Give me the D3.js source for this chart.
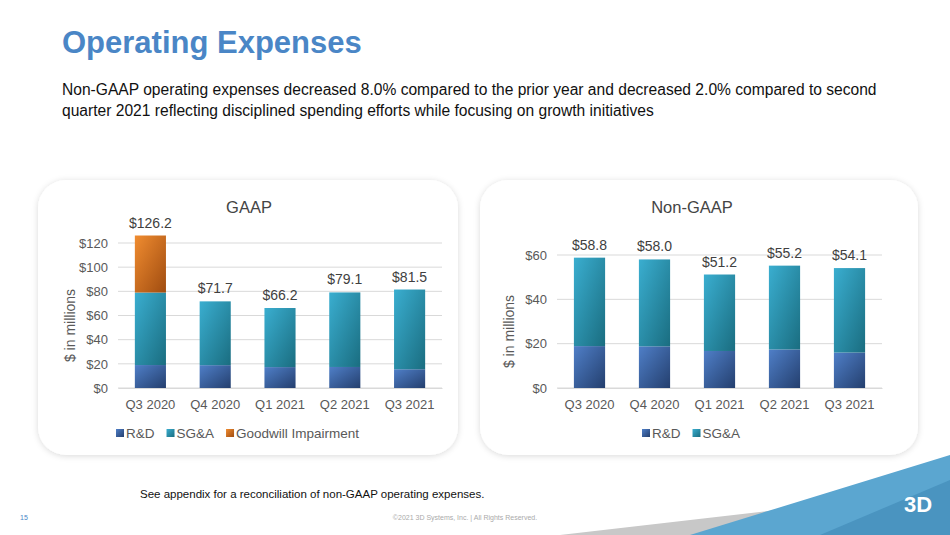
<!DOCTYPE html>
<html><head><meta charset="utf-8">
<script src="https://cdn.jsdelivr.net/npm/d3@7"></script>
<style>
body{margin:0;background:#fff;font-family:Arial,"Liberation Sans",sans-serif;}
svg{display:block;}
</style></head>
<body><svg id="slide" width="950" height="535"></svg>
<script>
const quarters = ["Q3 2020", "Q4 2020", "Q1 2021", "Q2 2021", "Q3 2021"];
const gaapRD = [19.0, 18.9, 17.3, 17.4, 15.5];
const gaapSGA = [60.0, 52.8, 48.9, 61.7, 66.0];
const gaapGW = [47.2, 0, 0, 0, 0];
const gaapTotals = ["$126.2", "$71.7", "$66.2", "$79.1", "$81.5"];
const ngRD = [18.9, 18.8, 16.7, 17.4, 16.0];
const ngSGA = [39.9, 39.2, 34.5, 37.8, 38.1];
const ngTotals = ["$58.8", "$58.0", "$51.2", "$55.2", "$54.1"];
const gaapTicks = [0, 20, 40, 60, 80, 100, 120];
const ngTicks = [0, 20, 40, 60];

const svg = d3.select("#slide");
const defs = svg.append("defs");

function grad(id, light, dark) {
  const g = defs.append("linearGradient").attr("id", id)
    .attr("x1", "0").attr("y1", "0").attr("x2", "1").attr("y2", "1");
  g.append("stop").attr("offset", "0%").attr("stop-color", light);
  g.append("stop").attr("offset", "100%").attr("stop-color", dark);
}
grad("gRD", "#4f7fc8", "#243f6e");
grad("gSGA", "#3aaed0", "#1a6d80");
grad("gGW", "#f08c30", "#a04c10");

const shadow = defs.append("filter").attr("id", "sh").attr("x", "-10%").attr("y", "-10%").attr("width", "120%").attr("height", "120%");
shadow.append("feDropShadow").attr("dx", 0).attr("dy", 1).attr("stdDeviation", 3).attr("flood-color", "#000").attr("flood-opacity", 0.15);

// header
svg.append("text").attr("x", 62).attr("y", 53).attr("font-size", 31).attr("font-weight", "bold")
  .attr("fill", "#4a86c6").text("Operating Expenses");
svg.append("text").attr("x", 62).attr("y", 95).attr("font-size", 15.6).attr("fill", "#111")
  .text("Non-GAAP operating expenses decreased 8.0% compared to the prior year and decreased 2.0% compared to second");
svg.append("text").attr("x", 62).attr("y", 116).attr("font-size", 15.6).attr("fill", "#111")
  .text("quarter 2021 reflecting disciplined spending efforts while focusing on growth initiatives");

// bottom decoration
svg.append("polygon").attr("points", "560,535 950,490 950,535").attr("fill", "#c8c8c8");
svg.append("polygon").attr("points", "690,535 950,455 950,535").attr("fill", "#5ba6d0");
svg.append("polygon").attr("points", "820,535 950,480 950,535").attr("fill", "#4a94c0");
svg.append("text").attr("x", 918).attr("y", 512).attr("text-anchor", "middle").attr("font-size", 22)
  .attr("font-weight", "bold").attr("fill", "#fff").text("3D");

svg.append("text").attr("x", 140).attr("y", 498).attr("font-size", 11.5).attr("fill", "#111")
  .text("See appendix for a reconciliation of non-GAAP operating expenses.");
svg.append("text").attr("x", 20).attr("y", 520).attr("font-size", 7).attr("fill", "#4a86c6").text("15");
svg.append("text").attr("x", 465).attr("y", 520).attr("text-anchor", "middle").attr("font-size", 7)
  .attr("fill", "#aaa").text("©2021 3D Systems, Inc. | All Rights Reserved.");

function chart(o) {
  svg.append("rect").attr("x", o.cx).attr("y", 180).attr("width", o.cw).attr("height", 275)
    .attr("rx", 28).attr("fill", "#fff").attr("filter", "url(#sh)");
  svg.append("text").attr("x", o.titleX).attr("y", 213).attr("text-anchor", "middle")
    .attr("font-size", 16.5).attr("fill", "#444").text(o.title);

  const x = d3.scaleBand().domain(quarters).range(o.xr).paddingInner(0.52).paddingOuter(0.26);
  const y = d3.scaleLinear().domain([0, o.ymax]).range([388, o.ytop]);

  const g = svg.append("g");
  g.selectAll(".grid").data(o.ticks).join("line")
    .attr("x1", o.xr[0]).attr("x2", o.xr[1]).attr("y1", d => y(d)).attr("y2", d => y(d))
    .attr("stroke", "#d9d9d9");

  const yAxis = g.append("g").attr("transform", `translate(${o.xr[0]},0)`)
    .call(d3.axisLeft(y).tickValues(o.ticks).tickFormat(d => "$" + d).tickSize(0).tickPadding(10));
  yAxis.select(".domain").remove();
  yAxis.selectAll("text").attr("font-size", 13).attr("fill", "#595959").attr("font-family", "Arial");

  const xAxis = g.append("g").attr("transform", "translate(0,388)")
    .call(d3.axisBottom(x).tickSize(0).tickPadding(12));
  xAxis.select(".domain").attr("stroke", "#d9d9d9");
  xAxis.selectAll("text").attr("font-size", 13).attr("fill", "#595959").attr("font-family", "Arial");

  const keys = o.series.map(s => s.key);
  const rows = quarters.map((q, i) => {
    const r = { q };
    o.series.forEach(s => r[s.key] = s.values[i]);
    return r;
  });
  const stacked = d3.stack().keys(keys)(rows);
  stacked.forEach((layer, li) => {
    g.selectAll(null).data(layer.filter(d => d[1] > d[0])).join("rect")
      .attr("x", d => x(d.data.q)).attr("width", x.bandwidth())
      .attr("y", d => y(d[1])).attr("height", d => y(d[0]) - y(d[1]))
      .attr("fill", `url(#${o.series[li].fill})`);
  });
  const tops = stacked[stacked.length - 1];
  g.selectAll(null).data(tops).join("text")
    .attr("x", d => x(d.data.q) + x.bandwidth() / 2).attr("y", d => y(d[1]) - 8)
    .attr("text-anchor", "middle").attr("font-size", 14).attr("fill", "#404040")
    .text((d, i) => o.labels[i]);

  svg.append("text").attr("transform", `translate(${o.xr[0] - 43},${(388 + o.ytop) / 2 + 10}) rotate(-90)`)
    .attr("text-anchor", "middle").attr("font-size", 14).attr("fill", "#595959").text("$ in millions");

  // legend
  let lx = o.legendX;
  o.series.forEach(s => {
    svg.append("rect").attr("x", lx).attr("y", 429).attr("width", 8).attr("height", 8).attr("fill", `url(#${s.fill})`);
    const t = svg.append("text").attr("x", lx + 10).attr("y", 438).attr("font-size", 13.5).attr("fill", "#595959").text(s.key);
    lx += t.node().getComputedTextLength() + 22;
  });
}

chart({
  cx: 38, cw: 420, title: "GAAP", titleX: 249, xr: [118, 442], ymax: 120, ytop: 243, ticks: gaapTicks,
  labels: gaapTotals, legendX: 116,
  series: [{ key: "R&D", values: gaapRD, fill: "gRD" }, { key: "SG&A", values: gaapSGA, fill: "gSGA" },
           { key: "Goodwill Impairment", values: gaapGW, fill: "gGW" }]
});
chart({
  cx: 480, cw: 438, title: "Non-GAAP", titleX: 692, xr: [557, 882], ymax: 60, ytop: 255, ticks: ngTicks,
  labels: ngTotals, legendX: 642,
  series: [{ key: "R&D", values: ngRD, fill: "gRD" }, { key: "SG&A", values: ngSGA, fill: "gSGA" }]
});
</script></body></html>
